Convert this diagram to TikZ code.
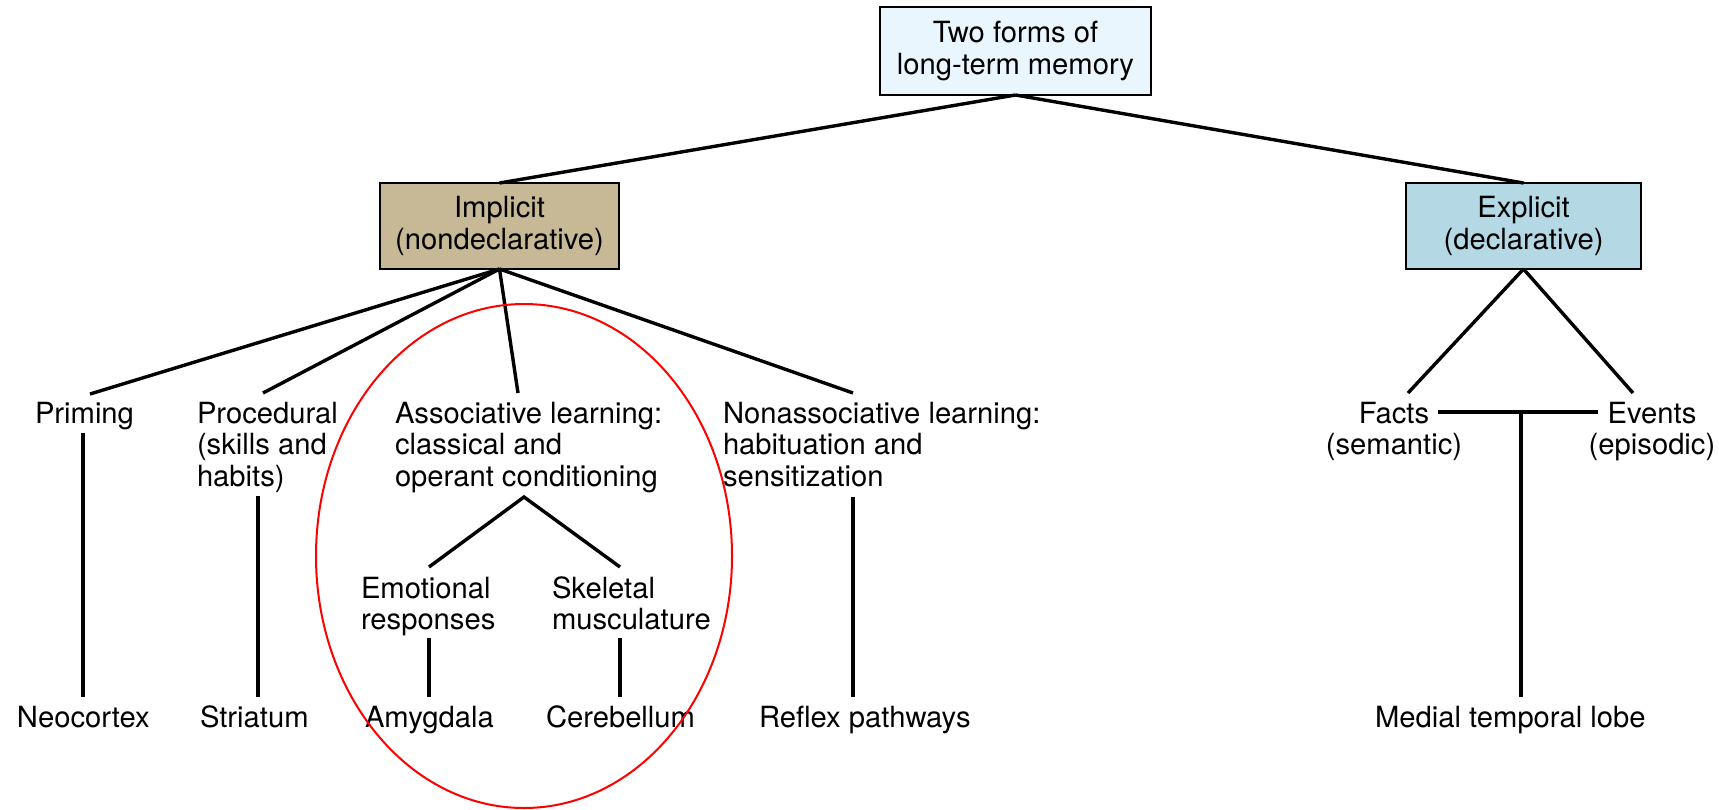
\documentclass[tikz,border=0pt]{standalone}
\usepackage{fontspec}
\setmainfont{TeX Gyre Heros}
\definecolor{topblue}{RGB}{234,246,253}
\definecolor{tan}{RGB}{199,184,150}
\definecolor{expblue}{RGB}{180,216,228}
\begin{document}
\begin{tikzpicture}[x=0.5pt,y=-0.5pt,
  every node/.style={font=\fontsize{14.6}{15.75}\selectfont, inner sep=0pt, outer sep=0pt},
  lbl/.style={anchor=base west, align=left},
  clbl/.style={anchor=base, align=center},
  box/.style={draw=black, line width=1pt, align=center},
  conn/.style={line width=1.7pt}]
\useasboundingbox (0,0) rectangle (1719,809);
% boxes
\node[box, fill=topblue, minimum width=135.5pt, minimum height=44pt] (top) at (1015.5,51) {Two forms of\\long-term memory};
\node[box, fill=tan, minimum width=119.5pt, minimum height=43pt] (imp) at (499.5,226) {Implicit\\(nondeclarative)};
\node[box, fill=expblue, minimum width=117.5pt, minimum height=43pt] (exp) at (1523.5,226) {Explicit\\(declarative)};
% second level labels (base anchor = last line baseline)
\node[lbl] (prim) at (35,423) {Priming};
\node[lbl] (proc) at (197,486) {Procedural\\(skills and\\habits)};
\node[lbl] (assoc) at (395,486) {Associative learning:\\classical and\\operant conditioning};
\node[lbl] (nonassoc) at (723,486) {Nonassociative learning:\\habituation and\\sensitization};
\node[clbl] (facts) at (1394,454.5) {Facts\\(semantic)};
\node[clbl] (events) at (1652,454.5) {Events\\(episodic)};
\node[lbl] (emo) at (361,629.5) {Emotional\\responses};
\node[lbl] (skel) at (552,629.5) {Skeletal\\musculature};
% bottom labels
\node[lbl] (neo) at (17,727) {Neocortex};
\node[lbl] (stri) at (200,727) {Striatum};
\node[lbl] (amyg) at (365,727) {Amygdala};
\node[lbl] (cere) at (546,727) {Cerebellum};
\node[lbl] (refl) at (759,727) {Reflex pathways};
\node[lbl] (mtl) at (1375,727) {Medial temporal lobe};
% connector end points
\coordinate (primT) at (90,394);
\coordinate (procT) at (263,393);
\coordinate (assocT) at (518,393);
\coordinate (nonT) at (853,393);
\coordinate (factsT) at (1408,393);
\coordinate (eventsT) at (1633,393);
\coordinate (primB) at (83,433);
\coordinate (primE) at (83,697);
\coordinate (procB) at (258,496);
\coordinate (procE) at (258,697);
\coordinate (assocB) at (524,497);
\coordinate (emoT) at (429,567);
\coordinate (skelT) at (620,567);
\coordinate (emoB) at (429,638);
\coordinate (emoE) at (429,697);
\coordinate (skelB) at (620,638);
\coordinate (skelE) at (620,697);
\coordinate (nonB) at (853,497);
\coordinate (nonE) at (853,697);
\coordinate (feL) at (1438,412);
\coordinate (feR) at (1598,412);
\coordinate (feM) at (1521,412);
\coordinate (mtlE) at (1521,697);
% connectors
\draw[conn] (top.south) -- (imp.north);
\draw[conn] (top.south) -- (exp.north);
\draw[conn] (imp.south) -- (primT);
\draw[conn] (imp.south) -- (procT);
\draw[conn] (imp.south) -- (assocT);
\draw[conn] (imp.south) -- (nonT);
\draw[conn] (exp.south) -- (factsT);
\draw[conn] (exp.south) -- (eventsT);
\draw[conn] (primB) -- (primE);
\draw[conn] (procB) -- (procE);
\draw[conn] (emoT) -- (assocB) -- (skelT);
\draw[conn] (emoB) -- (emoE);
\draw[conn] (skelB) -- (skelE);
\draw[conn] (nonB) -- (nonE);
\draw[conn] (feL) -- (feR);
\draw[conn] (feM) -- (mtlE);
% red ellipse
\draw[red, line width=1pt] (524,556) ellipse [x radius=208, y radius=252];
\end{tikzpicture}
\end{document}
